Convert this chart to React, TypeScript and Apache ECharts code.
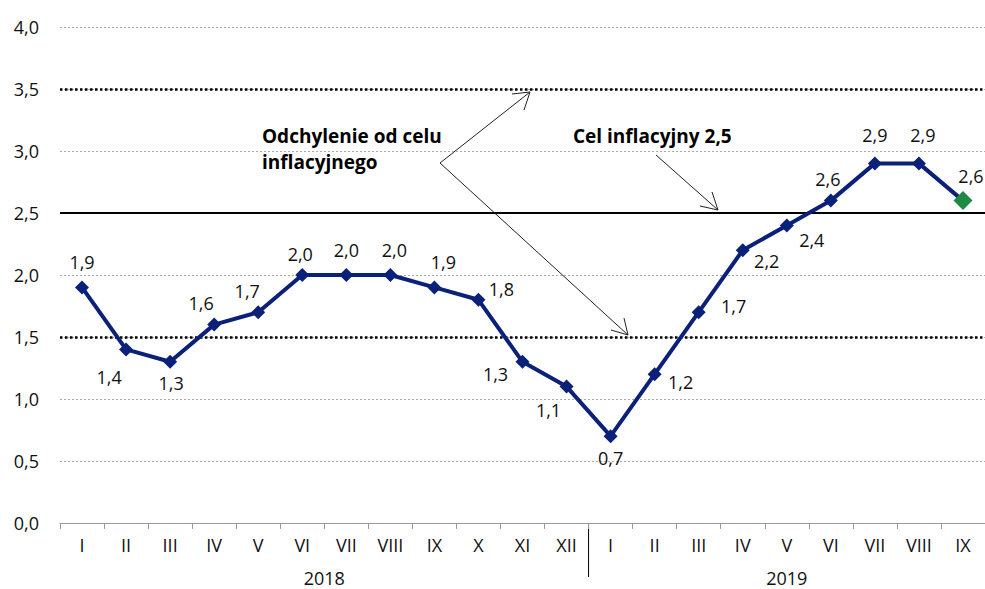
import React, { useEffect, useRef } from "react";
import * as echarts from "echarts";

const categories = ["I","II","III","IV","V","VI","VII","VIII","IX","X","XI","XII","I","II","III","IV","V","VI","VII","VIII","IX"];
const values = [1.9,1.4,1.3,1.6,1.7,2.0,2.0,2.0,1.9,1.8,1.3,1.1,0.7,1.2,1.7,2.2,2.4,2.6,2.9,2.9,2.6];
const years = ["2018", "2019"];
const targetValue = 2.5;
const bandValues = [1.5, 3.5];
const yTicks = { min: 0, max: 4, interval: 0.5 };

// label offsets [dx, dy] relative to point (style)
const labelOffsets: [number, number][] = [
  [0, -25], [-17, 28], [1, 21], [-13, -22], [-11, -21], [-2, -21], [0, -25], [4, -25], [9, -25], [23, -11],
  [-27, 12], [-18, 23], [0, 22], [26, 8], [35, -6], [24, 11], [25, 15], [-3, -22], [0, -28], [4, -28], [8, -25],
];

const FONT = "Open Sans";

export default function App() {
  const ref = useRef<HTMLDivElement>(null);
  useEffect(() => {
    if (!ref.current) return;
    const chart = echarts.init(ref.current, undefined, { renderer: "svg" });
    const fmt = (v: number) => v.toFixed(1).replace(".", ",");
    const n = values.length;
    const seriesData = values.map((v, i) => {
      const last = i === n - 1;
      return {
        value: v,
        symbol: "diamond",
        symbolSize: last ? 19 : 14,
        itemStyle: { color: last ? "#1f8a45" : "#0b2078" },
        label: {
          show: true,
          position: "inside",
          offset: labelOffsets[i],
          formatter: () => fmt(v),
          color: "#111",
          fontSize: 18,
          fontFamily: FONT,
        },
      };
    });
    const left = 60, right = 985, top = 27, bottom = 523;
    const step = (right - left) / n;
    const sepX = left + 12 * step;
    chart.setOption({
      animation: false,
      textStyle: { fontFamily: FONT },
      grid: { left, right: 985 - right, top, bottom: 589 - bottom },
      xAxis: {
        type: "category",
        data: categories,
        boundaryGap: true,
        axisLine: { lineStyle: { color: "#999", width: 1 } },
        axisTick: { show: true, length: 6, lineStyle: { color: "#999" } },
        axisLabel: { color: "#111", fontSize: 18, fontFamily: FONT, margin: 13 },
        splitLine: { show: false },
      },
      yAxis: {
        type: "value",
        min: yTicks.min,
        max: yTicks.max,
        interval: yTicks.interval,
        axisLine: { show: false },
        axisTick: { show: false },
        axisLabel: { color: "#111", fontSize: 18, fontFamily: FONT, margin: 21, formatter: (v: number) => fmt(v) },
        splitLine: { lineStyle: { color: "#aaa", type: [2, 2], width: 1 } },
      },
      series: [
        {
          type: "line",
          data: seriesData,
          lineStyle: { color: "#0b2078", width: 4 },
          z: 5,
          markLine: {
            silent: true,
            symbol: "none",
            label: { show: false },
            data: [
              { yAxis: targetValue, lineStyle: { color: "#000", width: 2, type: "solid" } },
              ...bandValues.map((b) => ({ yAxis: b, lineStyle: { color: "#000", width: 2.5, type: [2.5, 2.5] } })),
            ],
          },
        },
      ],
      graphic: [
        {
          type: "text",
          left: 262,
          top: 123,
          style: {
            text: "Odchylenie od celu\ninflacyjnego",
            font: `bold 19px ${FONT}`,
            fill: "#000",
            lineHeight: 26,
          },
        },
        {
          type: "text",
          left: 573,
          top: 123,
          style: { text: "Cel inflacyjny 2,5", font: `bold 19px ${FONT}`, fill: "#000", lineHeight: 26 },
        },
        { type: "polyline", shape: { points: [[530, 92], [440, 163], [628, 335]] }, style: { stroke: "#222", lineWidth: 1, fill: "none" } },
        { type: "polyline", shape: { points: [[512, 94], [530, 92], [524, 110]] }, style: { stroke: "#222", lineWidth: 1, fill: "none" } },
        { type: "polyline", shape: { points: [[611, 330], [628, 335], [624, 318]] }, style: { stroke: "#222", lineWidth: 1, fill: "none" } },
        { type: "line", shape: { x1: 656, y1: 155, x2: 718, y2: 210 }, style: { stroke: "#222", lineWidth: 1 } },
        { type: "polyline", shape: { points: [[700, 206], [718, 210], [712, 192]] }, style: { stroke: "#222", lineWidth: 1, fill: "none" } },
        { type: "line", shape: { x1: sepX, y1: bottom, x2: sepX, y2: 577 }, style: { stroke: "#000", lineWidth: 1 } },
        {
          type: "text",
          x: left + 6 * step,
          y: 578,
          style: { text: years[0], font: `18px ${FONT}`, fill: "#111", textAlign: "center", textVerticalAlign: "middle" },
        },
        {
          type: "text",
          x: left + (12 + 4.5) * step,
          y: 578,
          style: { text: years[1], font: `18px ${FONT}`, fill: "#111", textAlign: "center", textVerticalAlign: "middle" },
        },
      ],
    });
    return () => chart.dispose();
  }, []);
  return <div ref={ref} style={{ position: "absolute", left: 0, top: 0, width: 985, height: 589 }} />;
}
